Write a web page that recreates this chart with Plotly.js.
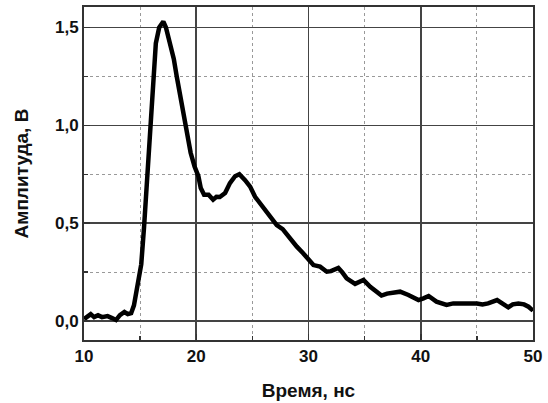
<!DOCTYPE html>
<html>
<head>
<meta charset="utf-8">
<script src="https://cdn.plot.ly/plotly-3.0.1.min.js"></script>
<style>html,body{margin:0;padding:0;background:#fff;}#chart{width:548px;height:403px;}</style>
</head>
<body>
<div id="chart"></div>
<script>
const timeNs = [10, 10.3, 10.6, 10.9, 11.25, 11.6, 12.1, 12.5, 12.85, 13.2, 13.6, 13.9, 14.2, 14.45, 14.7, 14.9, 15.1, 15.35, 15.44, 15.7, 15.94, 16.18, 16.4, 16.7, 17.07, 17.3, 17.66, 18.0, 18.26, 18.7, 19.06, 19.5, 19.85, 20.19, 20.4, 20.7, 21.1, 21.5, 21.8, 22.1, 22.57, 23.0, 23.46, 23.84, 24.35, 24.8, 25.24, 25.7, 26.0, 26.3, 26.6, 27.17, 27.7, 28.36, 28.96, 29.5, 30.0, 30.44, 31.03, 31.63, 32.0, 32.37, 32.66, 33.0, 33.4, 34.15, 34.5, 34.9, 35.5, 36.0, 36.5, 37.0, 37.4, 38.16, 38.9, 39.4, 39.8, 40.24, 40.7, 41.4, 42.3, 42.9, 43.5, 44.25, 45.0, 45.5, 46.0, 46.8, 47.3, 47.8, 48.2, 48.7, 49.2, 49.6, 50];
const amplitudeV = [0.01, 0.02, 0.035, 0.02, 0.03, 0.02, 0.025, 0.015, 0.005, 0.03, 0.046, 0.035, 0.04, 0.08, 0.16, 0.21, 0.29, 0.48, 0.567, 0.8, 1.0, 1.25, 1.42, 1.5, 1.53, 1.50, 1.42, 1.34, 1.25, 1.12, 1.0, 0.86, 0.79, 0.74, 0.68, 0.645, 0.645, 0.62, 0.635, 0.634, 0.654, 0.705, 0.74, 0.75, 0.72, 0.687, 0.635, 0.60, 0.578, 0.555, 0.527, 0.49, 0.47, 0.42, 0.38, 0.348, 0.31, 0.286, 0.278, 0.252, 0.255, 0.264, 0.271, 0.25, 0.218, 0.19, 0.2, 0.21, 0.175, 0.15, 0.13, 0.14, 0.145, 0.15, 0.133, 0.12, 0.107, 0.116, 0.128, 0.099, 0.082, 0.09, 0.09, 0.094, 0.09, 0.085, 0.09, 0.107, 0.09, 0.07, 0.085, 0.09, 0.085, 0.073, 0.053];
const xTitle = "Время, нс";
const yTitle = "Амплитуда, В";

const fontFam = "Liberation Sans, Arial, sans-serif";
const trace = {
  x: timeNs, y: amplitudeV, type: 'scatter', mode: 'lines',
  line: {color: '#000', width: 4.5}
};
const axisCommon = {
  showline: true, mirror: true, linecolor: '#333', linewidth: 2,
  showgrid: true, gridcolor: '#444', gridwidth: 1.6,
  ticks: 'inside', ticklen: 6, tickcolor: '#333', tickwidth: 1.5,
  zeroline: false,
  tickfont: {family: fontFam, size: 17, color: '#111', weight: 'bold'}
};
const layout = {
  width: 548, height: 403,
  margin: {l: 84, r: 15, t: 7, b: 63},
  paper_bgcolor: '#fff', plot_bgcolor: '#fff',
  separators: ', ',
  showlegend: false,
  xaxis: Object.assign({}, axisCommon, {
    range: [10, 50], dtick: 10, tick0: 10,
    minor: {dtick: 5, showgrid: true, griddash: 'dot', gridcolor: '#999', gridwidth: 1, ticks: 'inside', ticklen: 4, tickcolor: '#333'},
    title: {text: xTitle, font: {family: fontFam, size: 19, color: '#111', weight: 'bold'}, standoff: 18}
  }),
  yaxis: Object.assign({}, axisCommon, {
    range: [-0.097, 1.605], dtick: 0.5, tick0: 0, tickformat: '.1f',
    minor: {dtick: 0.25, showgrid: true, griddash: 'dot', gridcolor: '#999', gridwidth: 1, ticks: 'inside', ticklen: 4, tickcolor: '#333'},
    title: {text: yTitle, font: {family: fontFam, size: 19, color: '#111', weight: 'bold'}, standoff: 21}
  })
};
Plotly.newPlot('chart', [trace], layout, {displayModeBar: false, staticPlot: true});
</script>
</body>
</html>
